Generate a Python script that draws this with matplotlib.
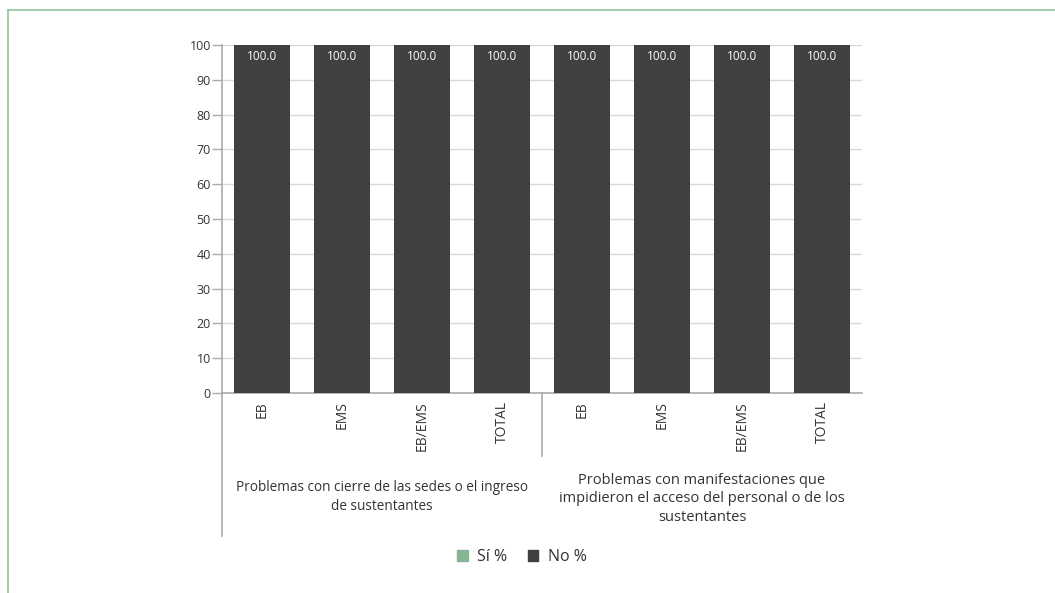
import matplotlib
matplotlib.use("Agg")
import matplotlib.pyplot as plt
from matplotlib.lines import Line2D
from matplotlib.patches import Patch
import numpy as np

categories = ["EB", "EMS", "EB/EMS", "TOTAL", "EB", "EMS", "EB/EMS", "TOTAL"]
groups = ["Problemas con cierre de las sedes o el ingreso\nde sustentantes",
          "Problemas con manifestaciones que\nimpidieron el acceso del personal o de los\nsustentantes"]
si_values = [0, 0, 0, 0, 0, 0, 0, 0]
no_values = [100.0, 100.0, 100.0, 100.0, 100.0, 100.0, 100.0, 100.0]
yticks = [0, 10, 20, 30, 40, 50, 60, 70, 80, 90, 100]

W, H = 1055, 593
fig = plt.figure(figsize=(W / 100, H / 100), dpi=100)
ax = fig.add_axes([222 / W, 1 - 393 / H, 640 / W, 348 / H])

FONT = "Open Sans"
x = np.arange(len(categories))
c_si = "#88b494"
c_no = "#404040"
ax.bar(x, si_values, width=0.71, color=c_si, zorder=3)
ax.bar(x, no_values, width=0.71, bottom=si_values, color=c_no, zorder=3)
for xi, v, b in zip(x, no_values, si_values):
    ax.text(xi, b + v - 3.2, f"{v:.1f}", ha="center", va="center", color="white",
            fontsize=8.5, family=FONT, zorder=4)

ax.set_xlim(-0.5, len(categories) - 0.5)
ax.set_ylim(0, 100)
ax.set_yticks(yticks)
ax.tick_params(axis="y", labelsize=9, color="#aaaaaa", length=7, width=1, labelcolor="#333333", pad=1)
for lab in ax.get_yticklabels():
    lab.set_family(FONT)
ax.yaxis.grid(True, color="#d9d9d9", linewidth=1, zorder=0)
ax.set_axisbelow(True)
ax.set_xticks(x)
ax.set_xticklabels(categories, rotation=90, fontsize=10, color="#333333", va="top", family=FONT)
ax.tick_params(axis="x", length=0, pad=6)
for s in ["top", "right"]:
    ax.spines[s].set_visible(False)
for s in ["left", "bottom"]:
    ax.spines[s].set_color("#aaaaaa")
    ax.spines[s].set_linewidth(1.2)

# group separators
fig.add_artist(Line2D([222 / W, 222 / W], [1 - 536 / H, 1 - 393 / H], color="#aaaaaa", linewidth=1.2))
fig.add_artist(Line2D([542 / W, 542 / W], [1 - 456 / H, 1 - 393 / H], color="#aaaaaa", linewidth=1.2))

# group labels
fig.text(382 / W, 1 - 497 / H, groups[0], ha="center", va="center", fontsize=9.8,
         family=FONT, color="#333333", linespacing=1.45)
fig.text(702 / W, 1 - 499 / H, groups[1], ha="center", va="center", fontsize=10.5,
         family=FONT, color="#333333", linespacing=1.3)

# legend
handles = [Patch(color=c_si, label="Sí %"), Patch(color=c_no, label="No %")]
leg = fig.legend(handles=handles, loc="center", bbox_to_anchor=(522 / W, 1 - 557 / H), ncol=2,
                 frameon=False, handlelength=0.65, handleheight=0.65,
                 handletextpad=0.6, columnspacing=1.3, prop={"family": FONT, "size": 11.5})
for t in leg.get_texts():
    t.set_color("#333333")

# green frame
fig.add_artist(Line2D([8 / W, 1], [1 - 10 / H, 1 - 10 / H], color="#8fc59b", linewidth=1.2))
fig.add_artist(Line2D([8 / W, 8 / W], [0, 1 - 10 / H], color="#8fc59b", linewidth=1.2))

fig.savefig("out.png", dpi=100)
